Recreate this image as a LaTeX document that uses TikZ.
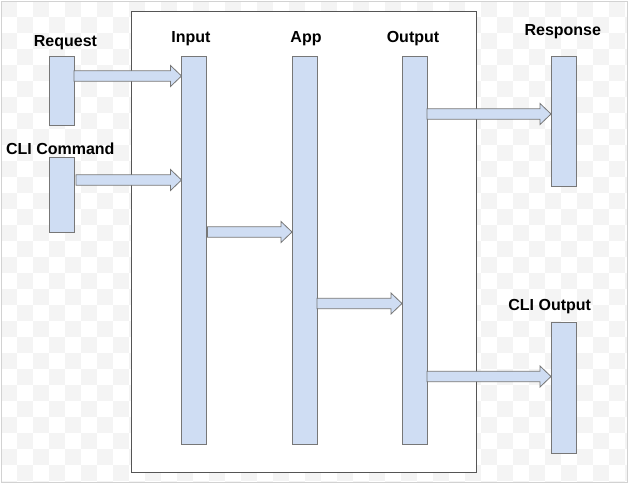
\documentclass[tikz,border=0pt]{standalone}
\usepackage{fontspec}
\setmainfont{Liberation Sans}
\usetikzlibrary{calc}
\definecolor{barfill}{HTML}{CFDDF3}
\definecolor{barline}{HTML}{777777}
\definecolor{boxline}{HTML}{555555}
\definecolor{chk}{HTML}{F4F4F4}
\definecolor{frameline}{HTML}{D2D2D2}
\tikzset{
  bar/.style={draw=barline, fill=barfill, line width=0.8pt, rectangle, inner sep=0pt, outer sep=0pt, minimum width=25pt, anchor=north west},
  lbl/.style={font=\fontsize{16}{18}\selectfont\bfseries, anchor=base, inner sep=0pt},
  arr/.style={draw=barline, fill=barfill, line width=0.8pt, line join=miter}
}
\newcommand{\flexarrow}[2]{\draw[arr] let \p1=(#1), \p2=(#2) in
  (\x1,\y1+5.2pt) -- (\x2-11pt,\y1+5.2pt) -- (\x2-11pt,\y1+10.5pt) -- (\x2,\y1)
  -- (\x2-11pt,\y1-10.5pt) -- (\x2-11pt,\y1-5.2pt) -- (\x1,\y1-5.2pt) -- cycle;}
\begin{document}
\begin{tikzpicture}[x=1pt,y=-1pt]
\useasboundingbox[fill=white] (0,0) rectangle (628,486);
% transparency checkerboard
\begin{scope}
\clip (1,1) rectangle (627,482.5);
\foreach \i in {0,...,39} {
  \foreach \j in {0,...,30} {
    \pgfmathtruncatemacro\s{mod(\i+\j,2)}
    \ifnum\s=0 \fill[chk] (1+16*\i,1+16*\j) rectangle ++(16,16); \fi
  }
}
\end{scope}
\draw[frameline, line width=0.8pt] (1,1) rectangle (627,482.5);
% main container
\node[draw=boxline, fill=white, line width=0.8pt, inner sep=0pt, outer sep=0pt,
      minimum width=345pt, minimum height=461pt, anchor=north west] (box) at (131,11) {};
% bars
\node[bar, minimum height=69pt]  (req)  at (49,56) {};
\node[bar, minimum height=75pt]  (cli)  at (49,157) {};
\node[bar, minimum height=388pt] (inp)  at (181.5,56) {};
\node[bar, minimum height=388pt] (app)  at (292,56) {};
\node[bar, minimum height=388pt] (out)  at (402,56) {};
\node[bar, minimum height=130pt] (resp) at (551,56) {};
\node[bar, minimum height=131pt] (clio) at (551,322.5) {};
% labels
\node[lbl] (lreq)  at (65.5,46.5) {Request};
\node[lbl] (lcli)  at (60.3,154.3) {CLI Command};
\node[lbl] (linp)  at (191,42.3) {Input};
\node[lbl] (lapp)  at (306,42.3) {App};
\node[lbl] (lout)  at (413,42.3) {Output};
\node[lbl] (lresp) at (562.8,36) {Response};
\node[lbl] (lclio) at (549.7,310) {CLI Output};
% arrows
\flexarrow{$(req.north east)+(0,20)$}{inp.west}
\flexarrow{$(cli.north east)+(2,23)$}{inp.west}
\flexarrow{$(inp.north east)+(1,176)$}{app.west}
\flexarrow{$(app.north east)+(0,247.5)$}{out.west}
\flexarrow{$(out.north east)+(0,58)$}{resp.west}
\flexarrow{$(out.north east)+(0,320.5)$}{clio.west}
\end{tikzpicture}
\end{document}
